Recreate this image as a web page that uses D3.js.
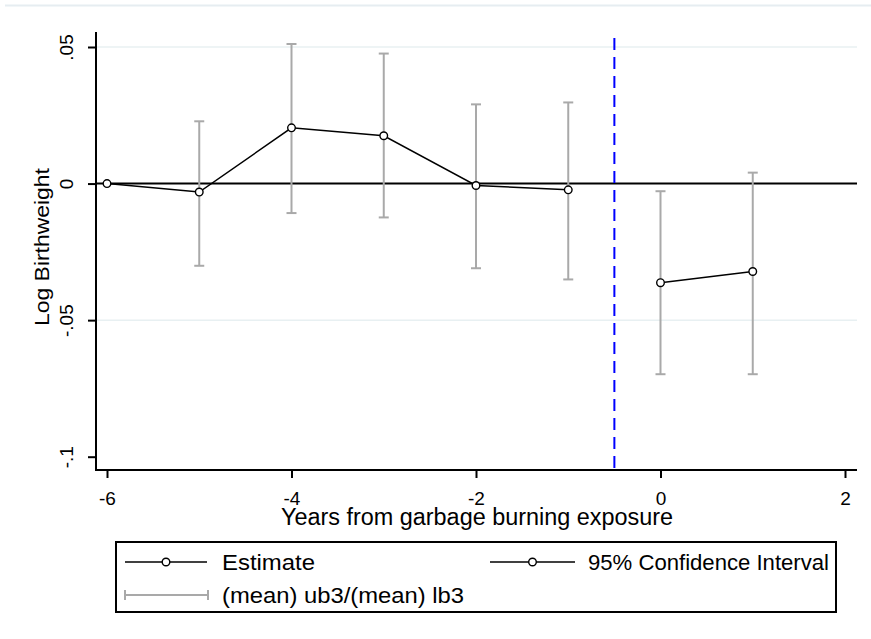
<!DOCTYPE html>
<html>
<head>
<meta charset="utf-8">
<script src="https://cdn.jsdelivr.net/npm/d3@7"></script>
<style>
  html, body { margin: 0; padding: 0; background: #fff; }
  svg { display: block; font-family: "Liberation Sans", Arial, sans-serif; }
</style>
</head>
<body>
<svg id="chart" width="871" height="639"></svg>
<script>
// ---- data ----
const years    = [-6, -5, -4, -3, -2, -1, 0, 1];
const estimate = [0, -0.0031, 0.0204, 0.0175, -0.0007, -0.0023, -0.0363, -0.0322];
const ciUpper  = [null, 0.0228, 0.0511, 0.0476, 0.0290, 0.0297, -0.0028, 0.0040];
const ciLower  = [null, -0.0301, -0.0108, -0.0124, -0.0310, -0.0351, -0.0698, -0.0698];
const xTicks = [-6, -4, -2, 0, 2];
const yTicks = [0.05, 0, -0.05, -0.1];
const yTickLabels = [".05", "0", "-.05", "-.1"];
const gridValues = [0.05, -0.05];
const eventLine = -0.5;
const legendLabels = ["Estimate", "95% Confidence Interval", "(mean) ub3/(mean) lb3"];

(function () {
const svg = d3.select("#chart");
const pLeft = 96, pRight = 857, pTop = 32, pBottom = 470;

const x = d3.scaleLinear().domain([-6, 2]).range([107, 845]);
const y = d3.scaleLinear().domain([-0.1, 0.05]).range([456.7, 47]);

const rows = years.map((yr, i) => ({yr, est: estimate[i], ub: ciUpper[i], lb: ciLower[i]}));

// faint outer frame line at top
svg.append("line").attr("x1", 5).attr("x2", 871).attr("y1", 5.5).attr("y2", 5.5)
  .attr("stroke", "#e6edf1").attr("stroke-width", 2);

// gridlines
svg.selectAll(".grid").data(gridValues).enter().append("line")
  .attr("x1", pLeft).attr("x2", pRight)
  .attr("y1", d => y(d)).attr("y2", d => y(d))
  .attr("stroke", "#e8f0f2").attr("stroke-width", 1.5);

// zero line
svg.append("line").attr("x1", pLeft).attr("x2", pRight)
  .attr("y1", y(0)).attr("y2", y(0))
  .attr("stroke", "#000").attr("stroke-width", 2);

// dashed event line
svg.append("line").attr("x1", x(eventLine)).attr("x2", x(eventLine))
  .attr("y1", 38).attr("y2", pBottom)
  .attr("stroke", "#0000ff").attr("stroke-width", 2)
  .attr("stroke-dasharray", "12,7");

// CI bars
const ciRows = rows.filter(d => d.ub !== null);
const ci = svg.append("g").attr("stroke", "#a9a9a9").attr("stroke-width", 2);
ci.selectAll(".v").data(ciRows).enter().append("line")
  .attr("x1", d => x(d.yr)).attr("x2", d => x(d.yr))
  .attr("y1", d => y(d.ub)).attr("y2", d => y(d.lb));
ci.selectAll(".cu").data(ciRows).enter().append("line")
  .attr("x1", d => x(d.yr) - 5).attr("x2", d => x(d.yr) + 5)
  .attr("y1", d => y(d.ub)).attr("y2", d => y(d.ub));
ci.selectAll(".cl").data(ciRows).enter().append("line")
  .attr("x1", d => x(d.yr) - 5).attr("x2", d => x(d.yr) + 5)
  .attr("y1", d => y(d.lb)).attr("y2", d => y(d.lb));

// estimate lines (pre / post)
const line = d3.line().x(d => x(d.yr)).y(d => y(d.est));
[rows.filter(d => d.yr < 0), rows.filter(d => d.yr >= 0)].forEach(seg => {
  svg.append("path").datum(seg).attr("d", line)
    .attr("fill", "none").attr("stroke", "#000").attr("stroke-width", 1.5);
});
svg.selectAll(".pt").data(rows).enter().append("circle")
  .attr("cx", d => x(d.yr)).attr("cy", d => y(d.est)).attr("r", 3.8)
  .attr("fill", "#fff").attr("stroke", "#000").attr("stroke-width", 1.4);

// axes
const yAxis = d3.axisLeft(y).tickValues(yTicks).tickSize(8)
  .tickFormat((d, i) => yTickLabels[i]);
const gy = svg.append("g").attr("transform", `translate(${pLeft},0)`).call(yAxis);
gy.select(".domain").remove();
gy.selectAll(".tick line").attr("stroke", "#000").attr("stroke-width", 2);
gy.selectAll(".tick text")
  .attr("font-size", 19).attr("fill", "#000")
  .attr("x", null).attr("dy", null)
  .attr("text-anchor", "middle")
  .attr("transform", "translate(-23,0) rotate(-90)");
svg.append("line").attr("x1", pLeft).attr("x2", pLeft).attr("y1", pTop).attr("y2", pBottom + 1)
  .attr("stroke", "#000").attr("stroke-width", 2);

const xAxis = d3.axisBottom(x).tickValues(xTicks).tickSize(8).tickFormat(d3.format("d"));
const gx = svg.append("g").attr("transform", `translate(0,${pBottom})`).call(xAxis);
gx.select(".domain").remove();
gx.selectAll(".tick line").attr("stroke", "#000").attr("stroke-width", 2);
gx.selectAll(".tick text").attr("font-size", 19).attr("fill", "#000")
  .attr("y", 35).attr("dy", null).text(d => d < 0 ? "-" + Math.abs(d) : d);
svg.append("line").attr("x1", pLeft - 1).attr("x2", pRight).attr("y1", pBottom).attr("y2", pBottom)
  .attr("stroke", "#000").attr("stroke-width", 2);

// axis titles
svg.append("text").attr("x", 477).attr("y", 525).attr("text-anchor", "middle")
  .attr("font-size", 23.5).attr("textLength", 392).attr("lengthAdjust", "spacingAndGlyphs")
  .text("Years from garbage burning exposure");
svg.append("text").attr("transform", "translate(49,247) rotate(-90)").attr("text-anchor", "middle")
  .attr("font-size", 20).attr("textLength", 158).attr("lengthAdjust", "spacingAndGlyphs")
  .text("Log Birthweight");

// legend
const lg = svg.append("g");
lg.append("rect").attr("x", 116).attr("y", 542).attr("width", 720).attr("height", 70)
  .attr("fill", "#fff").attr("stroke", "#000").attr("stroke-width", 2);
const keys = [
  {x1: 125, x2: 207, y: 562, tx: 222, type: "marker", w: 93},
  {x1: 490, x2: 575, y: 562, tx: 588, type: "marker", w: 241},
  {x1: 125, x2: 208, y: 595, tx: 222, type: "ci", w: 242}
];
keys.forEach((k, i) => {
  if (k.type === "marker") {
    lg.append("line").attr("x1", k.x1).attr("x2", k.x2).attr("y1", k.y).attr("y2", k.y)
      .attr("stroke", "#000").attr("stroke-width", 1.6);
    lg.append("circle").attr("cx", (k.x1 + k.x2) / 2).attr("cy", k.y).attr("r", 3.8)
      .attr("fill", "#fff").attr("stroke", "#000").attr("stroke-width", 1.4);
  } else {
    lg.append("line").attr("x1", k.x1).attr("x2", k.x2).attr("y1", k.y).attr("y2", k.y)
      .attr("stroke", "#a9a9a9").attr("stroke-width", 2);
    [k.x1, k.x2].forEach(xx => lg.append("line").attr("x1", xx).attr("x2", xx)
      .attr("y1", k.y - 5).attr("y2", k.y + 5).attr("stroke", "#a9a9a9").attr("stroke-width", 2));
  }
  lg.append("text").attr("x", k.tx).attr("y", k.y + 8).attr("font-size", 22.5)
    .attr("textLength", k.w).attr("lengthAdjust", "spacingAndGlyphs")
    .text(legendLabels[i]);
});
})();
</script>
</body>
</html>
